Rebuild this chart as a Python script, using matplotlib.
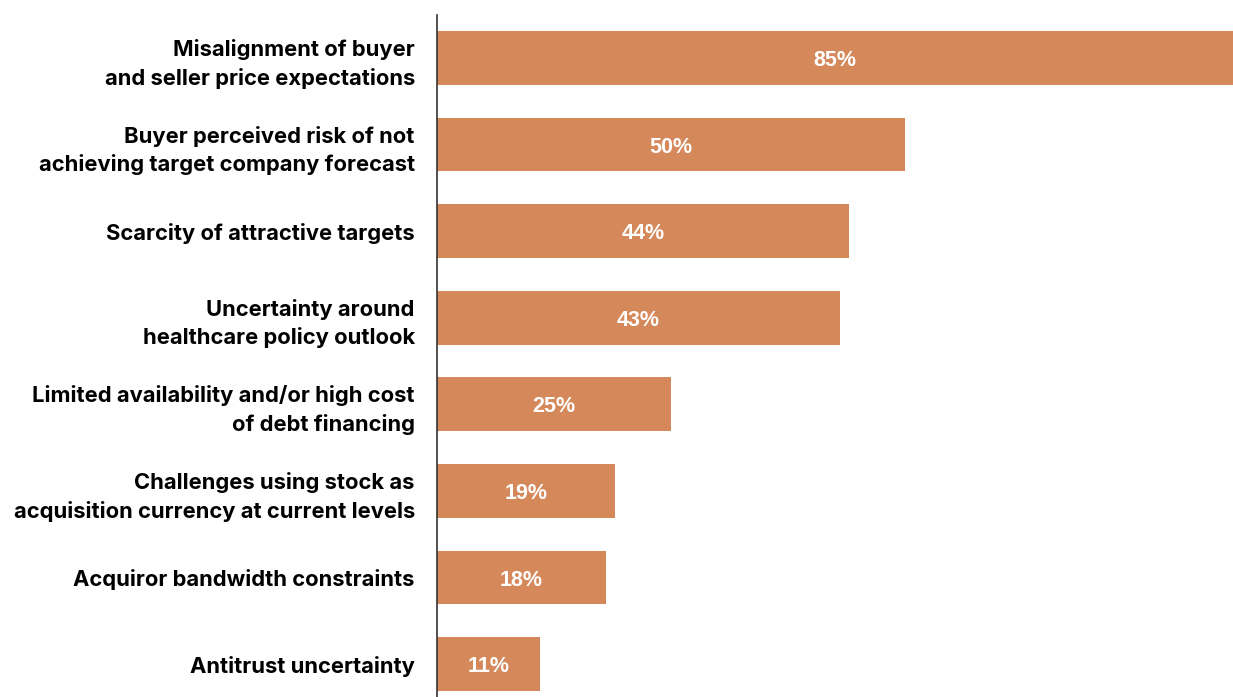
import matplotlib.pyplot as plt

categories = [
    "Misalignment of buyer\nand seller price expectations",
    "Buyer perceived risk of not\nachieving target company forecast",
    "Scarcity of attractive targets",
    "Uncertainty around\nhealthcare policy outlook",
    "Limited availability and/or high cost\nof debt financing",
    "Challenges using stock as\nacquisition currency at current levels",
    "Acquiror bandwidth constraints",
    "Antitrust uncertainty",
]
values = [85, 50, 44, 43, 25, 19, 18, 11]

bar_color = "#D5895B"

fig = plt.figure(figsize=(12.33, 6.97), dpi=100)
ax = fig.add_axes([0.3544, -0.0148, 0.6456, 0.9937])

pos = list(range(len(values)))
bars = ax.barh(pos, values, height=0.62, color=bar_color)

# percentage labels in the middle of each bar
for b, v in zip(bars, values):
    ax.text(b.get_x() + b.get_width() / 2, b.get_y() + b.get_height() / 2 + 0.03,
            f"{v}%", ha="center", va="center", color="white",
            fontsize=15.5, fontweight="bold", family="Liberation Sans")

ax.set_xlim(0, 85)
ax.set_ylim(len(values) - 0.5, -0.5)
ax.set_yticks(pos)
ax.set_yticklabels(categories, fontsize=15.8, fontweight="bold",
                   family="Inter", linespacing=1.45)
ax.tick_params(axis="y", length=0, pad=16)
ax.set_xticks([])

for s in ["top", "right", "bottom"]:
    ax.spines[s].set_visible(False)
ax.spines["left"].set_color("#333333")
ax.spines["left"].set_linewidth(1.2)

fig.savefig("out.png", dpi=100)
